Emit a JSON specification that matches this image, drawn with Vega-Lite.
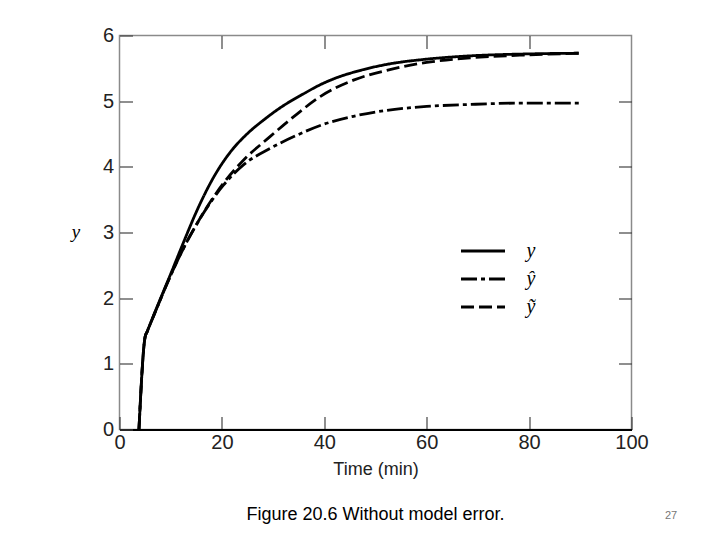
{
  "$schema": "https://vega.github.io/schema/vega-lite/v6.json",
  "autosize": {"type": "none"},
  "padding": {"left": 119.5, "top": 35.5, "right": 88.5, "bottom": 111},
  "width": 512,
  "height": 394,
  "background": "white",
  "config": {
    "view": {"stroke": "#8a8a8a", "strokeWidth": 1.5},
    "axis": {"grid": false, "labelFont": "Liberation Sans", "labelFontSize": 20, "labelColor": "#222", "tickColor": "#444", "tickWidth": 1.2, "domain": false}
  },
  "title": {
    "text": "Figure 20.6 Without model error.",
    "orient": "bottom",
    "anchor": "middle",
    "font": "Liberation Sans",
    "fontSize": 18,
    "fontWeight": "normal",
    "color": "#000",
    "offset": -15
  },
  "data": {
    "values": [
      {"t": 3.8, "v": 0, "s": "y"},
      {"t": 5.0, "v": 1.41, "s": "y"},
      {"t": 5.4, "v": 1.49, "s": "y"},
      {"t": 7.3, "v": 1.86, "s": "y"},
      {"t": 9.9, "v": 2.35, "s": "y"},
      {"t": 12.5, "v": 2.85, "s": "y"},
      {"t": 15.1, "v": 3.33, "s": "y"},
      {"t": 18.3, "v": 3.83, "s": "y"},
      {"t": 21.6, "v": 4.22, "s": "y"},
      {"t": 24.9, "v": 4.5, "s": "y"},
      {"t": 28.1, "v": 4.71, "s": "y"},
      {"t": 31.4, "v": 4.9, "s": "y"},
      {"t": 35.9, "v": 5.11, "s": "y"},
      {"t": 39.2, "v": 5.25, "s": "y"},
      {"t": 42.5, "v": 5.36, "s": "y"},
      {"t": 45.7, "v": 5.44, "s": "y"},
      {"t": 52.2, "v": 5.56, "s": "y"},
      {"t": 60.0, "v": 5.64, "s": "y"},
      {"t": 68.5, "v": 5.69, "s": "y"},
      {"t": 80.0, "v": 5.72, "s": "y"},
      {"t": 89.7, "v": 5.73, "s": "y"},
      {"t": 3.8, "v": 0, "s": "ŷ"},
      {"t": 5.0, "v": 1.41, "s": "ŷ"},
      {"t": 5.4, "v": 1.49, "s": "ŷ"},
      {"t": 7.3, "v": 1.85, "s": "ŷ"},
      {"t": 9.9, "v": 2.33, "s": "ŷ"},
      {"t": 12.5, "v": 2.76, "s": "ŷ"},
      {"t": 15.1, "v": 3.13, "s": "ŷ"},
      {"t": 20.3, "v": 3.72, "s": "ŷ"},
      {"t": 24.2, "v": 4.03, "s": "ŷ"},
      {"t": 29.4, "v": 4.28, "s": "ŷ"},
      {"t": 34.6, "v": 4.48, "s": "ŷ"},
      {"t": 39.2, "v": 4.63, "s": "ŷ"},
      {"t": 45.7, "v": 4.77, "s": "ŷ"},
      {"t": 52.2, "v": 4.86, "s": "ŷ"},
      {"t": 60.0, "v": 4.92, "s": "ŷ"},
      {"t": 68.5, "v": 4.95, "s": "ŷ"},
      {"t": 78.2, "v": 4.97, "s": "ŷ"},
      {"t": 89.7, "v": 4.97, "s": "ŷ"},
      {"t": 3.8, "v": 0, "s": "ỹ"},
      {"t": 5.0, "v": 1.41, "s": "ỹ"},
      {"t": 5.4, "v": 1.49, "s": "ỹ"},
      {"t": 7.3, "v": 1.85, "s": "ỹ"},
      {"t": 9.9, "v": 2.33, "s": "ỹ"},
      {"t": 12.5, "v": 2.76, "s": "ỹ"},
      {"t": 15.1, "v": 3.13, "s": "ỹ"},
      {"t": 20.3, "v": 3.75, "s": "ỹ"},
      {"t": 24.2, "v": 4.1, "s": "ỹ"},
      {"t": 29.4, "v": 4.46, "s": "ỹ"},
      {"t": 34.6, "v": 4.8, "s": "ỹ"},
      {"t": 39.2, "v": 5.07, "s": "ỹ"},
      {"t": 45.7, "v": 5.32, "s": "ỹ"},
      {"t": 52.2, "v": 5.47, "s": "ỹ"},
      {"t": 60.0, "v": 5.59, "s": "ỹ"},
      {"t": 68.5, "v": 5.66, "s": "ỹ"},
      {"t": 78.2, "v": 5.7, "s": "ỹ"},
      {"t": 89.7, "v": 5.73, "s": "ỹ"}
    ]
  },
  "layer": [
    {
      "mark": {"type": "line", "interpolate": "monotone", "color": "#000", "strokeWidth": 2.8},
      "encoding": {
        "x": {
          "field": "t", "type": "quantitative",
          "scale": {"domain": [0, 100], "nice": false, "zero": false},
          "axis": {
            "orient": "bottom", "values": [0, 20, 40, 60, 80, 100], "tickSize": -13,
            "labelPadding": 16, "labelFlush": false, "domain": true, "domainColor": "#000", "domainWidth": 2,
            "title": "Time (min)", "titleFont": "Liberation Sans", "titleFontSize": 18, "titleFontWeight": "normal",
            "titleColor": "#222", "titleY": 40, "titleBaseline": "middle"
          }
        },
        "y": {
          "field": "v", "type": "quantitative",
          "scale": {"domain": [0, 6], "nice": false},
          "axis": {
            "orient": "left", "values": [0, 1, 2, 3, 4, 5, 6], "tickSize": -13, "labelPadding": 19,
            "title": "y", "titleFont": "Liberation Serif", "titleFontStyle": "italic", "titleFontSize": 19,
            "titleFontWeight": "normal", "titleColor": "#000", "titleAngle": 0, "titleX": -44, "titleY": 196,
            "titleAlign": "center", "titleBaseline": "middle"
          }
        },
        "detail": {"field": "s"},
        "strokeDash": {
          "field": "s", "type": "nominal",
          "scale": {"domain": ["y", "ŷ", "ỹ"], "range": [[1, 0], [16, 4, 4, 4], [13, 5]]},
          "legend": {
            "title": null, "orient": "none", "legendX": 340, "legendY": 203,
            "symbolType": "M-1,0H3", "symbolSize": 484, "symbolStrokeWidth": 3, "symbolStrokeColor": "#000",
            "symbolFillColor": "transparent", "labelOffset": 42, "rowPadding": 5,
            "labelFont": "Liberation Serif", "labelFontStyle": "italic", "labelFontSize": 20, "labelColor": "#000"
          }
        }
      }
    },
    {
      "mark": {"type": "line", "strokeOpacity": 0},
      "encoding": {
        "x": {
          "field": "t", "type": "quantitative",
          "axis": {"orient": "top", "values": [20, 40, 60, 80], "tickSize": -13, "labels": false, "title": null}
        },
        "y": {
          "field": "v", "type": "quantitative",
          "axis": {
            "orient": "right", "values": [1, 2, 3, 4, 5], "tickSize": -13, "labels": false,
            "title": "27", "titleFont": "Liberation Sans", "titleFontSize": 11, "titleFontWeight": "normal",
            "titleColor": "#777", "titleAngle": 0, "titleX": 39, "titleY": 480, "titleAlign": "center", "titleBaseline": "middle"
          }
        },
        "detail": {"field": "s"}
      }
    }
  ],
  "resolve": {"axis": {"x": "independent", "y": "independent"}}
}
